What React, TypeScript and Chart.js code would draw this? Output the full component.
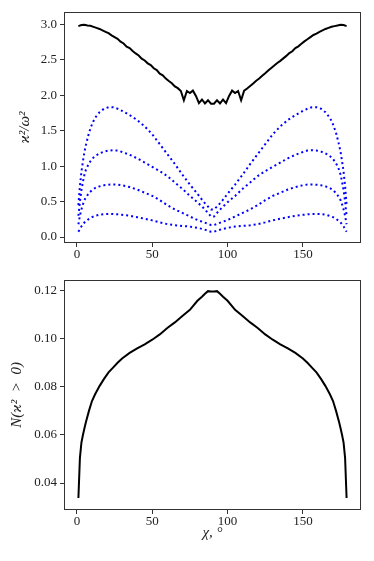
import React, { useEffect, useRef } from "react";
import { Chart, registerables } from "chart.js";

Chart.register(...registerables);

// ---------- data ----------
const X_TICKS = [0, 50, 100, 150];
const TOP_Y_TICKS = [0, 0.5, 1.0, 1.5, 2.0, 2.5, 3.0];
const BOT_Y_TICKS = [0.04, 0.06, 0.08, 0.1, 0.12];

// solid black curve (top panel)
const BLACK_X = [
  1, 3, 5, 7, 9, 11, 13, 15, 17, 19, 21, 23, 25, 27, 29, 31, 33, 35, 37, 39,
  41, 43, 45, 47, 49, 51, 53, 55, 57, 59, 61, 63, 65, 67, 69, 71, 73, 75, 77, 79,
  81, 83, 85, 87, 89, 91, 93, 95, 97, 99, 101, 103, 105, 107, 109, 111, 113, 115, 117, 119,
  121, 123, 125, 127, 129, 131, 133, 135, 137, 139, 141, 143, 145, 147, 149, 151, 153, 155, 157, 159,
  161, 163, 165, 167, 169, 171, 173, 175, 177, 179,
];
const BLACK_Y = [
  2.975, 2.99, 2.995, 2.985, 2.98, 2.965, 2.95, 2.935, 2.915, 2.895,
  2.875, 2.845, 2.82, 2.795, 2.755, 2.73, 2.685, 2.665, 2.625, 2.59,
  2.56, 2.515, 2.49, 2.45, 2.425, 2.38, 2.355, 2.305, 2.28, 2.235,
  2.2, 2.17, 2.125, 2.1, 2.06, 1.93, 2.06, 2.03, 2.065, 1.99,
  1.89, 1.94, 1.885, 1.93, 1.88, 1.88, 1.93, 1.885, 1.94, 1.89,
  1.99, 2.065, 2.03, 2.06, 1.93, 2.065, 2.095, 2.13, 2.165, 2.205,
  2.235, 2.275, 2.31, 2.35, 2.385, 2.42, 2.455, 2.485, 2.52, 2.555,
  2.595, 2.62, 2.665, 2.69, 2.725, 2.76, 2.79, 2.82, 2.85, 2.87,
  2.895, 2.915, 2.935, 2.95, 2.965, 2.975, 2.985, 2.995, 2.99, 2.975,
];

// dotted blue curves (top panel)
const BLUE_X = [
  1, 2, 3, 4, 5, 6, 8, 10, 12, 15, 18, 21, 24, 27, 30, 35, 40, 45, 50, 55, 60, 65, 70, 75, 80, 84, 87, 89,
  91, 93, 96, 100, 105, 110, 115, 120, 125, 130, 135, 140, 145, 150, 153, 156, 159, 162, 165, 168, 170, 172, 174, 175, 176, 177, 178, 179,
];
const BLUE_1 = [
  0.45, 0.72, 0.92, 1.07, 1.2, 1.3, 1.47, 1.59, 1.68, 1.76, 1.81, 1.83, 1.83, 1.81, 1.78, 1.72, 1.65, 1.56, 1.45, 1.31, 1.17, 1.03, 0.88, 0.74, 0.61, 0.5, 0.43, 0.39,
  0.39, 0.43, 0.5, 0.61, 0.74, 0.88, 1.03, 1.17, 1.31, 1.45, 1.56, 1.65, 1.72, 1.78, 1.81, 1.83, 1.83, 1.81, 1.76, 1.68, 1.59, 1.47, 1.3, 1.2, 1.07, 0.92, 0.72, 0.45,
];
const BLUE_2 = [
  0.3, 0.5, 0.66, 0.78, 0.88, 0.95, 1.04, 1.1, 1.14, 1.18, 1.205, 1.22, 1.225, 1.22, 1.2, 1.16, 1.11, 1.05, 0.99, 0.93, 0.86, 0.77, 0.68, 0.58, 0.49, 0.41, 0.34, 0.29,
  0.29, 0.34, 0.41, 0.49, 0.58, 0.68, 0.77, 0.86, 0.93, 0.99, 1.05, 1.11, 1.16, 1.2, 1.22, 1.225, 1.22, 1.205, 1.18, 1.14, 1.1, 1.04, 0.95, 0.88, 0.78, 0.66, 0.5, 0.3,
];
const BLUE_3 = [
  0.18, 0.3, 0.39, 0.46, 0.52, 0.56, 0.62, 0.66, 0.69, 0.715, 0.73, 0.738, 0.742, 0.74, 0.73, 0.705, 0.67, 0.625, 0.58, 0.52, 0.45, 0.39, 0.34, 0.29, 0.24, 0.21, 0.185, 0.17,
  0.17, 0.185, 0.21, 0.24, 0.29, 0.34, 0.39, 0.45, 0.52, 0.58, 0.625, 0.67, 0.705, 0.73, 0.74, 0.742, 0.738, 0.73, 0.715, 0.69, 0.66, 0.62, 0.56, 0.52, 0.46, 0.39, 0.3, 0.18,
];
const BLUE_4 = [
  0.075, 0.11, 0.15, 0.18, 0.205, 0.225, 0.255, 0.28, 0.298, 0.315, 0.323, 0.326, 0.325, 0.32, 0.313, 0.3, 0.28, 0.258, 0.235, 0.207, 0.182, 0.166, 0.157, 0.147, 0.13, 0.11, 0.09, 0.075,
  0.075, 0.09, 0.11, 0.13, 0.147, 0.157, 0.166, 0.182, 0.207, 0.235, 0.258, 0.28, 0.3, 0.313, 0.32, 0.325, 0.326, 0.323, 0.315, 0.298, 0.28, 0.255, 0.225, 0.205, 0.18, 0.15, 0.11, 0.075,
];

// bottom panel curve
const N_X = [
  1, 2, 3, 4, 5, 6, 8, 10, 12, 15, 18, 21, 24, 27, 30, 35, 40, 45, 50, 55, 60, 65, 70, 75, 80, 83, 85, 87, 89,
  91, 93, 95, 97, 100, 105, 110, 115, 120, 125, 130, 135, 140, 145, 150, 153, 156, 159, 162, 165, 168, 170, 172, 174, 175, 176, 177, 178, 179,
];
const N_Y = [
  0.0338, 0.0505, 0.0568, 0.06, 0.0628, 0.0654, 0.07, 0.0741, 0.0768, 0.0803, 0.0833, 0.086, 0.088, 0.09, 0.0918, 0.0941, 0.096, 0.0977, 0.0996, 0.1018, 0.1045, 0.1068, 0.1095, 0.112, 0.1158, 0.1175, 0.1187, 0.1198, 0.1197,
  0.1197, 0.1198, 0.1187, 0.1175, 0.1158, 0.112, 0.1095, 0.1068, 0.1045, 0.1018, 0.0996, 0.0977, 0.096, 0.0941, 0.0918, 0.09, 0.088, 0.086, 0.0833, 0.0803, 0.0768, 0.0741, 0.07, 0.0654, 0.0628, 0.06, 0.0568, 0.0505, 0.0338,
];

const TOP_Y_LABEL = "ϰ²/ω²";
const BOT_Y_LABEL = "N(ϰ²  >  0)";
const X_LABEL = "χ, °";

// ---------- styling ----------
const FONT = "'Liberation Serif', 'DejaVu Serif', serif";
const INK = "#222";
const AXIS = "#333";

const pts = (xs: number[], ys: number[]) => xs.map((x, i) => ({ x, y: ys[i] }));

const framePlugin = {
  id: "frame",
  afterDraw(chart: any) {
    const { ctx, chartArea: a } = chart;
    ctx.save();
    ctx.strokeStyle = AXIS;
    ctx.lineWidth = 1;
    ctx.strokeRect(
      Math.round(a.left) - 0.5,
      Math.round(a.top) - 0.5,
      Math.round(a.right) - Math.round(a.left) + 1,
      Math.round(a.bottom) - Math.round(a.top) + 1
    );
    ctx.restore();
  },
};

interface PanelCfg {
  datasets: any[];
  yMin: number;
  yMax: number;
  yTicks: number[];
  yDigits: number;
  yTitle: string;
  yTitlePad: number;
  xTitle?: string;
  xAxisHeight: number;
  padTop: number;
}

function buildConfig(c: PanelCfg): any {
  const tickFont = { family: FONT, size: 13 };
  const titleFont = { family: FONT, size: 15, style: "italic" };
  return {
    type: "line",
    data: { datasets: c.datasets },
    plugins: [framePlugin],
    options: {
      animation: false,
      responsive: false,
      devicePixelRatio: 1,
      events: [],
      layout: { padding: { left: 0, right: 14, top: c.padTop, bottom: 0 } },
      plugins: { legend: { display: false }, tooltip: { enabled: false } },
      elements: { point: { radius: 0 }, line: { tension: 0 } },
      scales: {
        x: {
          type: "linear",
          min: -7.9,
          max: 187.9,
          afterBuildTicks: (s: any) => {
            s.ticks = X_TICKS.map((v) => ({ value: v }));
          },
          afterFit: (s: any) => {
            s.height = c.xAxisHeight;
          },
          ticks: { font: tickFont, color: INK, padding: 0, maxRotation: 0, callback: (v: any) => String(v) },
          grid: { drawOnChartArea: false, drawTicks: true, tickLength: 5, color: AXIS, lineWidth: 1 },
          border: { display: false },
          title: c.xTitle
            ? { display: true, text: c.xTitle, font: titleFont, color: INK, padding: { top: 0, bottom: 19 } }
            : { display: false },
        },
        y: {
          type: "linear",
          min: c.yMin,
          max: c.yMax,
          afterBuildTicks: (s: any) => {
            s.ticks = c.yTicks.map((v) => ({ value: v }));
          },
          afterFit: (s: any) => {
            s.width = 65;
          },
          ticks: { font: tickFont, color: INK, padding: 3, callback: (v: any) => Number(v).toFixed(c.yDigits) },
          grid: { drawOnChartArea: false, drawTicks: true, tickLength: 5, color: AXIS, lineWidth: 1 },
          border: { display: false },
          title: { display: true, text: c.yTitle, font: titleFont, color: INK, padding: { top: c.yTitlePad, bottom: 0 } },
        },
      },
    },
  };
}

function Panel({ cfg, width, height, top }: { cfg: PanelCfg; width: number; height: number; top: number }) {
  const ref = useRef<HTMLCanvasElement | null>(null);
  useEffect(() => {
    if (!ref.current) return;
    const chart = new Chart(ref.current, buildConfig(cfg));
    return () => chart.destroy();
  }, []);
  return (
    <canvas
      ref={ref}
      width={width}
      height={height}
      style={{ position: "absolute", left: 0, top, width, height, display: "block" }}
    />
  );
}

const blueStyle = {
  borderColor: "#0000ff",
  borderWidth: 2,
  borderDash: [2, 3],
  borderCapStyle: "butt",
  fill: false,
};

const topCfg: PanelCfg = {
  datasets: [
    { data: pts(BLACK_X, BLACK_Y), borderColor: "#000", borderWidth: 2, fill: false },
    { data: pts(BLUE_X, BLUE_1), ...blueStyle },
    { data: pts(BLUE_X, BLUE_2), ...blueStyle },
    { data: pts(BLUE_X, BLUE_3), ...blueStyle },
    { data: pts(BLUE_X, BLUE_4), ...blueStyle },
  ],
  yMin: -0.07,
  yMax: 3.16,
  yTicks: TOP_Y_TICKS,
  yDigits: 1,
  yTitle: TOP_Y_LABEL,
  yTitlePad: 16,
  xAxisHeight: 28,
  padTop: 13,
};

const botCfg: PanelCfg = {
  datasets: [{ data: pts(N_X, N_Y), borderColor: "#000", borderWidth: 2, fill: false }],
  yMin: 0.0292,
  yMax: 0.1241,
  yTicks: BOT_Y_TICKS,
  yDigits: 2,
  yTitle: BOT_Y_LABEL,
  yTitlePad: 8,
  xTitle: X_LABEL,
  xAxisHeight: 52,
  padTop: 7,
};

export default function App() {
  return (
    <div style={{ position: "fixed", left: 0, top: 0, width: 374, height: 561, background: "#fff" }}>
      <Panel cfg={topCfg} width={374} height={270} top={0} />
      <Panel cfg={botCfg} width={374} height={291} top={270} />
    </div>
  );
}
